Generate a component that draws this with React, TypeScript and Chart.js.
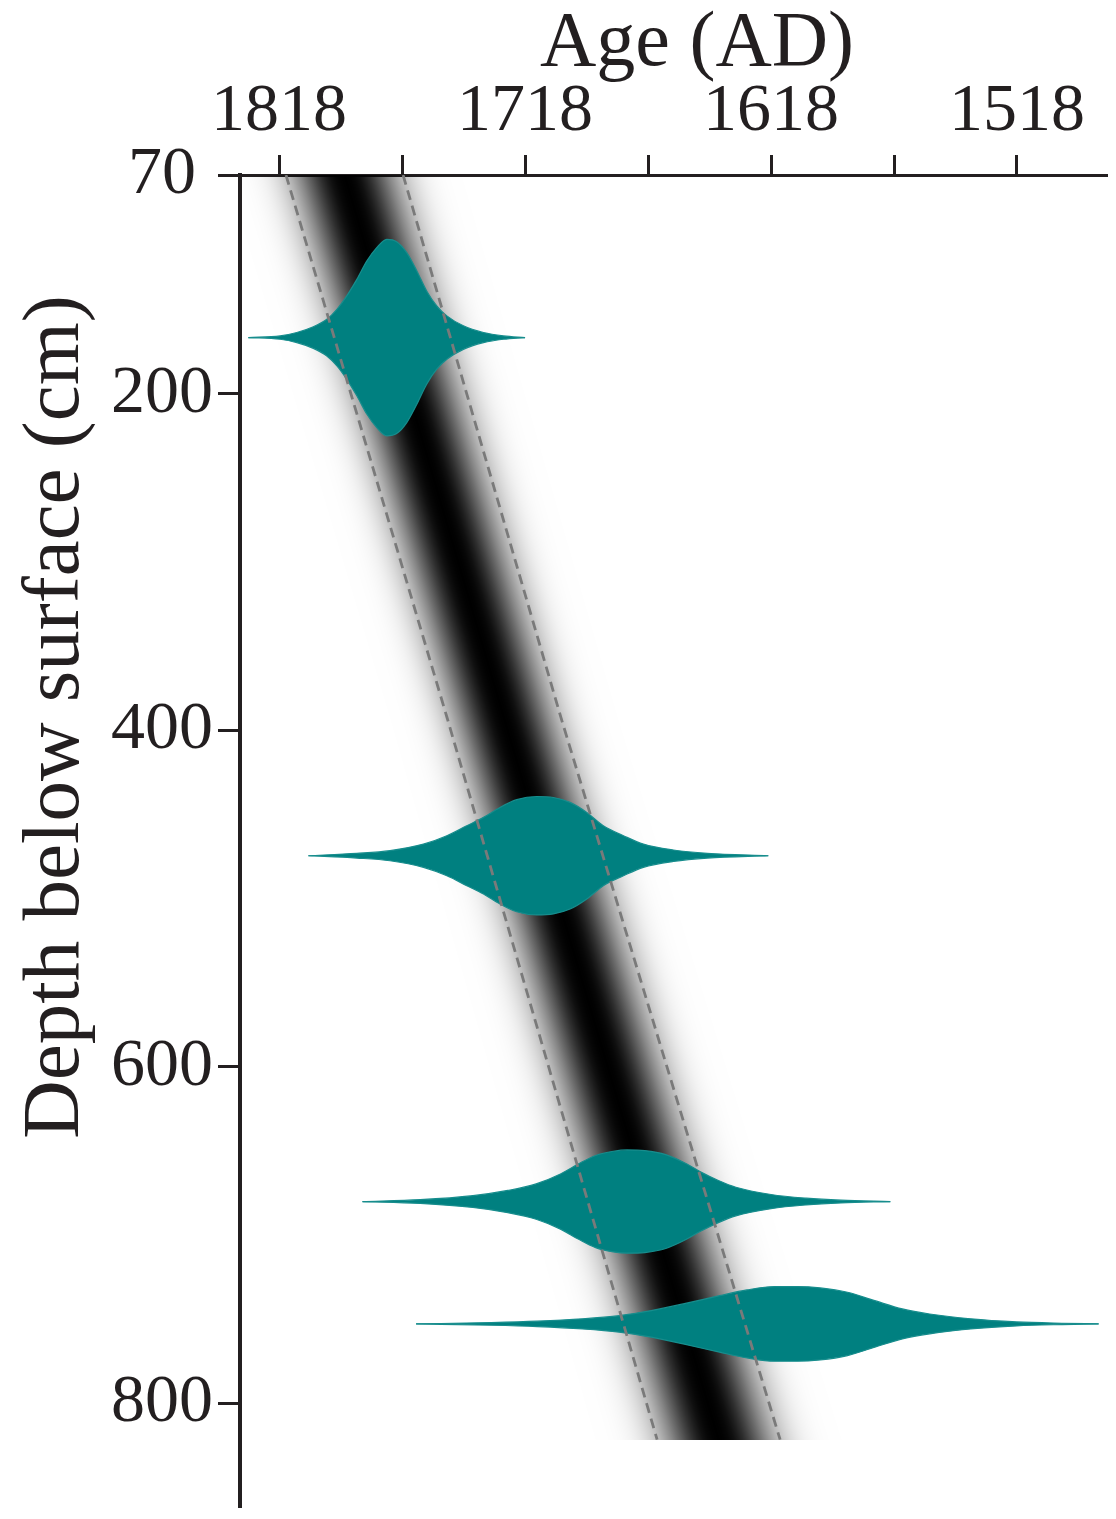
import React, { useEffect, useRef } from 'react';
import { Chart, registerables } from 'chart.js';

Chart.register(...registerables);

// ---- axis ticks ----
const xTickValues = [1818, 1768, 1718, 1668, 1618, 1568, 1518];
const xTickLabels = [1818, 1718, 1618, 1518];
const yTickValues = [70, 200, 400, 600, 800];

// ---- age-depth model (mean and 95% bounds, years AD) ----
const modelDepth = [70, 392.5, 821.5];
const modelMean = [1791.4, 1726.6, 1639.3];
const modelYoung = [1815.2, 1749.7, 1664.3];
const modelOld = [1767.6, 1703.4, 1614.3];

// ---- calibrated date distributions (age AD, relative probability) ----
const sampleDepths = [166.6, 474.5, 680, 752.7];

const ages1 = [1830.5, 1817.6, 1810.8, 1804.1, 1798.6, 1794.5, 1790.5, 1786.4, 1782.3, 1778.3, 1774.2, 1770.2, 1766.1, 1762.0, 1758.0, 1753.9, 1749.8, 1743.1, 1734.9, 1726.8, 1718.0];
const prob1 = [0, 1.0, 3.0, 6.4, 10.9, 16.8, 24.8, 34.6, 45.6, 53.5, 58.4, 57.0, 50.5, 39.6, 27.7, 18.8, 12.9, 7.0, 3.0, 1.0, 0];

const ages2 = [1806.1, 1786.4, 1772.9, 1759.3, 1749.8, 1741.7, 1734.9, 1728.2, 1721.4, 1713.2, 1706.5, 1699.7, 1692.9, 1686.2, 1678.0, 1669.9, 1657.7, 1643.9, 1619.1];
const prob2 = [0, 1.4, 3.0, 6.9, 11.9, 17.8, 22.8, 28.7, 33.3, 35.2, 34.6, 31.7, 25.7, 17.8, 11.9, 6.9, 3.4, 1.4, 0];

const ages3 = [1784.1, 1760.6, 1739.2, 1725.0, 1713.5, 1703.6, 1696.4, 1689.3, 1682.1, 1676.5, 1669.3, 1660.8, 1652.2, 1646.5, 1639.4, 1632.3, 1618.0, 1603.7, 1589.5, 1569.5];
const prob3 = [0, 1.1, 3.5, 6.6, 10.5, 16.4, 22.3, 27.4, 29.9, 30.7, 30.3, 27.9, 22.3, 17.5, 12.5, 8.5, 4.2, 2.0, 0.8, 0];

const ages4 = [1762.3, 1731.7, 1713.1, 1694.6, 1679.7, 1666.7, 1653.7, 1638.9, 1627.8, 1616.6, 1607.3, 1598.0, 1586.9, 1575.8, 1564.6, 1553.5, 1536.8, 1518.2, 1499.7, 1484.8];
const prob4 = [0, 0.8, 1.6, 3.0, 4.9, 7.9, 11.9, 16.8, 20.2, 22.2, 22.2, 21.4, 18.8, 13.8, 8.9, 5.9, 3.0, 1.2, 0.4, 0];

const violinAges = [ages1, ages2, ages3, ages4];
const violinProbs = [prob1, prob2, prob3, prob4];

// ---- styles ----
const INK = '#231f20';
const TEAL = '#008080';
const FONT = '"Liberation Serif", "Times New Roman", Times, serif';
const VIOLIN_SCALE = 1; // cm of half-height per unit of relative probability
const BAND_SPREAD = 2.0;

function interp(v: number, xs: number[], ys: number[]) {
  if (v <= xs[0]) return ys[0];
  for (let i = 1; i < xs.length; i++) {
    if (v <= xs[i]) {
      const t = (v - xs[i - 1]) / (xs[i] - xs[i - 1]);
      return ys[i - 1] + t * (ys[i] - ys[i - 1]);
    }
  }
  return ys[ys.length - 1];
}

const bandPlugin = {
  id: 'ageModelBand',
  beforeDatasetsDraw(chart: any) {
    const { ctx, chartArea, scales } = chart;
    const x = scales.x;
    const y = scales.y;
    ctx.save();
    ctx.beginPath();
    ctx.rect(chartArea.left, chartArea.top, chartArea.right - chartArea.left, chartArea.bottom - chartArea.top);
    ctx.clip();
    const yTop = Math.round(y.getPixelForValue(modelDepth[0]));
    const yBot = Math.round(y.getPixelForValue(modelDepth[modelDepth.length - 1]));
    const N = 48;
    for (let py = yTop; py < yBot; py++) {
      const d = y.getValueForPixel(py + 0.5);
      const mean = interp(d, modelDepth, modelMean);
      const young = interp(d, modelDepth, modelYoung);
      const old = interp(d, modelDepth, modelOld);
      const h = (young - old) / 2;
      const xl = x.getPixelForValue(mean + BAND_SPREAD * h);
      const xr = x.getPixelForValue(mean - BAND_SPREAD * h);
      const g = ctx.createLinearGradient(xl, 0, xr, 0);
      for (let i = 0; i <= N; i++) {
        const t = i / N;
        const u = -BAND_SPREAD + 2 * BAND_SPREAD * t;
        const a = Math.exp(-1.4 * Math.pow(Math.abs(u), 2.2));
        g.addColorStop(t, `rgba(0,0,0,${a.toFixed(3)})`);
      }
      ctx.fillStyle = g;
      ctx.fillRect(Math.min(xl, xr), py, Math.abs(xr - xl), 1);
    }
    ctx.restore();
  },
};

const titlePlugin = {
  id: 'axisTitles',
  afterDraw(chart: any) {
    const { ctx } = chart;
    ctx.save();
    ctx.fillStyle = INK;
    ctx.textAlign = 'center';
    ctx.textBaseline = 'alphabetic';
    ctx.font = `78px ${FONT}`;
    ctx.fillText('Age (AD)', 697, 65);
    ctx.translate(78, 717);
    ctx.rotate(-Math.PI / 2);
    ctx.font = `81px ${FONT}`;
    ctx.fillText('Depth below surface (cm)', 0, 0);
    ctx.restore();
  },
};

function zeroPad(s: any) {
  s.paddingTop = 0;
  s.paddingBottom = 0;
  s.paddingLeft = 0;
  s.paddingRight = 0;
}

export default function App() {
  const ref = useRef<HTMLCanvasElement | null>(null);

  useEffect(() => {
    if (!ref.current) return;
    const datasets: any[] = [];
    violinAges.forEach((ages, k) => {
      const c = sampleDepths[k];
      const probs = violinProbs[k];
      const common = {
        borderColor: '#178d8d',
        backgroundColor: TEAL,
        borderWidth: 1.2,
        pointRadius: 0,
        cubicInterpolationMode: 'monotone',
        order: 1,
      };
      datasets.push({
        ...common,
        label: `date ${k + 1} upper`,
        data: ages.map((a, i) => ({ x: a, y: c - probs[i] * VIOLIN_SCALE })),
        fill: false,
      });
      datasets.push({
        ...common,
        label: `date ${k + 1} lower`,
        data: ages.map((a, i) => ({ x: a, y: c + probs[i] * VIOLIN_SCALE })),
        fill: '-1',
      });
    });
    const boundStyle = {
      borderColor: '#7a7a7a',
      borderWidth: 2.8,
      borderDash: [10, 6],
      pointRadius: 0,
      fill: false,
      tension: 0,
      order: 0,
    };
    datasets.push({
      ...boundStyle,
      label: 'young bound',
      data: modelDepth.map((d, i) => ({ x: modelYoung[i], y: d })),
    });
    datasets.push({
      ...boundStyle,
      label: 'old bound',
      data: modelDepth.map((d, i) => ({ x: modelOld[i], y: d })),
    });

    const chart = new Chart(ref.current, {
      type: 'line',
      data: { datasets },
      options: {
        responsive: false,
        animation: false,
        devicePixelRatio: 1,
        layout: { padding: { left: 0, right: 9, top: 0, bottom: 12 } },
        plugins: { legend: { display: false }, tooltip: { enabled: false } },
        scales: {
          x: {
            type: 'linear',
            position: 'top',
            reverse: true,
            min: 1481.4,
            max: 1833.9,
            afterBuildTicks: (s: any) => {
              s.ticks = xTickValues.map((v) => ({ value: v }));
            },
            afterFit: (s: any) => {
              s.height = 175;
              zeroPad(s);
            },
            ticks: {
              autoSkip: false,
              maxRotation: 0,
              minRotation: 0,
              padding: 2,
              color: INK,
              font: { family: FONT, size: 68 },
              callback: (v: any) => (xTickLabels.includes(Number(v)) ? String(v) : ''),
            },
            grid: { drawOnChartArea: false, tickLength: 20, tickWidth: 3, tickColor: INK },
            border: { color: INK, width: 3 },
          },
          y: {
            type: 'linear',
            reverse: true,
            min: 70,
            max: 861.5,
            afterBuildTicks: (s: any) => {
              s.ticks = yTickValues.map((v) => ({ value: v }));
            },
            afterFit: (s: any) => {
              s.width = 240;
              zeroPad(s);
            },
            ticks: {
              padding: 5,
              color: INK,
              font: { family: FONT, size: 68 },
              callback: (v: any) => (Number(v) === 70 ? '70 ' : String(v)),
            },
            grid: { drawOnChartArea: false, tickLength: 22, tickWidth: 3, tickColor: INK },
            border: { color: INK, width: 4 },
          },
        },
      } as any,
      plugins: [bandPlugin, titlePlugin],
    });
    return () => chart.destroy();
  }, []);

  return (
    <div style={{ position: 'absolute', left: 0, top: 0, width: 1116, height: 1519, background: '#fff' }}>
      <canvas ref={ref} width={1116} height={1519} style={{ display: 'block' }} />
    </div>
  );
}
